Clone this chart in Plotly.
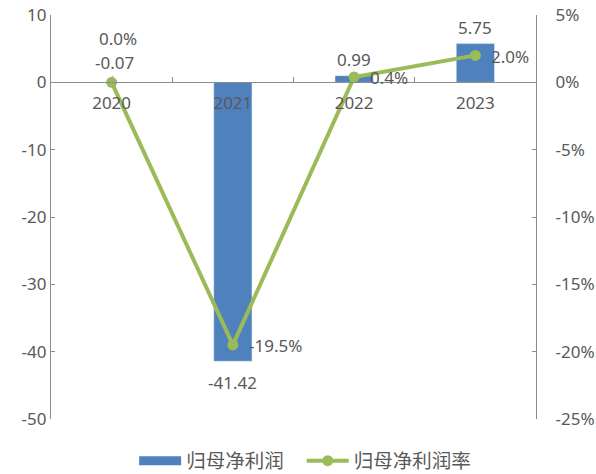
import plotly.graph_objects as go

years = ["2020", "2021", "2022", "2023"]
profit = [-0.07, -41.42, 0.99, 5.75]
margin = [0.0, -0.195, 0.004, 0.020]
profit_labels = ["-0.07", "-41.42", "0.99", "5.75"]
margin_labels = ["0.0%", "-19.5%", "0.4%", "2.0%"]
left_ticks = [10, 0, -10, -20, -30, -40, -50]
right_ticks = [0.05, 0, -0.05, -0.10, -0.15, -0.20, -0.25]
left_tick_text = ["10", "0", "-10", "-20", "-30", "-40", "-50"]
right_tick_text = ["5%", "0%", "-5%", "-10%", "-15%", "-20%", "-25%"]

BLUE = "#4F81BD"
GREEN = "#9BBB59"
TXT = "#595959"
AX = "#8C8C8C"
FONT = "Noto Sans, Noto Sans CJK SC"
FS = 17

fig = go.Figure()
fig.add_trace(go.Bar(x=years, y=profit, name="归母净利润", marker_color=BLUE, yaxis="y",
                     showlegend=False))
# legend entry for the bar series (wide rectangle like the original legend)
fig.add_trace(go.Scatter(x=[None], y=[None], mode="lines", name="归母净利润   ",
                         line=dict(color=BLUE, width=9), yaxis="y"))
fig.add_trace(go.Scatter(x=years, y=margin, name="归母净利润率", mode="lines+markers",
                         line=dict(color=GREEN, width=4), marker=dict(color=GREEN, size=11),
                         yaxis="y2"))

ann = []
for i, (v, t) in enumerate(zip(profit, profit_labels)):
    if i == 0:
        ann.append(dict(x=i, y=v, yref="y", text=t, showarrow=True, arrowhead=0,
                        arrowcolor="#A6A6A6", arrowwidth=1, ax=3, ay=-20))
    elif v < 0:
        ann.append(dict(x=i, y=v, yref="y", text=t, showarrow=False, yshift=-21))
    else:
        ann.append(dict(x=i, y=v, yref="y", text=t, showarrow=False, yshift=16))
for i, (v, t) in enumerate(zip(margin, margin_labels)):
    if i == 0:
        ann.append(dict(x=i, y=v, yref="y2", text=t, showarrow=False, xshift=6, yshift=44))
    else:
        ann.append(dict(x=i, y=v, yref="y2", text=t, showarrow=False, xanchor="left",
                        xshift=14, yshift=-1))
for a in ann:
    a["font"] = dict(size=FS, color=TXT, family=FONT)
    a["xref"] = "x"

fig.update_layout(
    width=596, height=474,
    margin=dict(l=51, r=60, t=15, b=55, autoexpand=False),
    plot_bgcolor="white", paper_bgcolor="white",
    font=dict(family=FONT, size=FS, color=TXT),
    bargap=0.685,
    showlegend=True,
    legend=dict(orientation="h", x=0.524, xanchor="center", y=-0.104, yanchor="middle",
                font=dict(size=19.5, color=TXT, family="Noto Sans CJK SC"),
                itemwidth=42, tracegroupgap=0, bgcolor="rgba(0,0,0,0)"),
    xaxis=dict(type="category", range=[-0.5, 3.5], anchor="free", position=50/60,
               showline=True, linecolor=AX, linewidth=1.3, ticks="inside", ticklen=5,
               tickcolor=AX, tickson="boundaries", showgrid=False, zeroline=False,
               tickfont=dict(size=FS, color=TXT), automargin=False, ticklabelstandoff=5),
    yaxis=dict(range=[-50, 10], tickvals=left_ticks, ticktext=left_tick_text,
               showline=True, linecolor=AX, linewidth=1.3,
               ticks="inside", ticklen=4, tickcolor=AX, showgrid=False, zeroline=False,
               tickfont=dict(size=FS, color=TXT), automargin=False),
    yaxis2=dict(range=[-0.25, 0.05], tickvals=right_ticks, ticktext=right_tick_text,
                overlaying="y", side="right", showline=True, linecolor=AX, linewidth=1.3,
                ticks="inside", ticklen=4, tickcolor=AX, showgrid=False, zeroline=False,
                tickfont=dict(size=FS, color=TXT), automargin=False, ticklabelstandoff=15),
    annotations=ann,
)

fig.write_html("out.html")
